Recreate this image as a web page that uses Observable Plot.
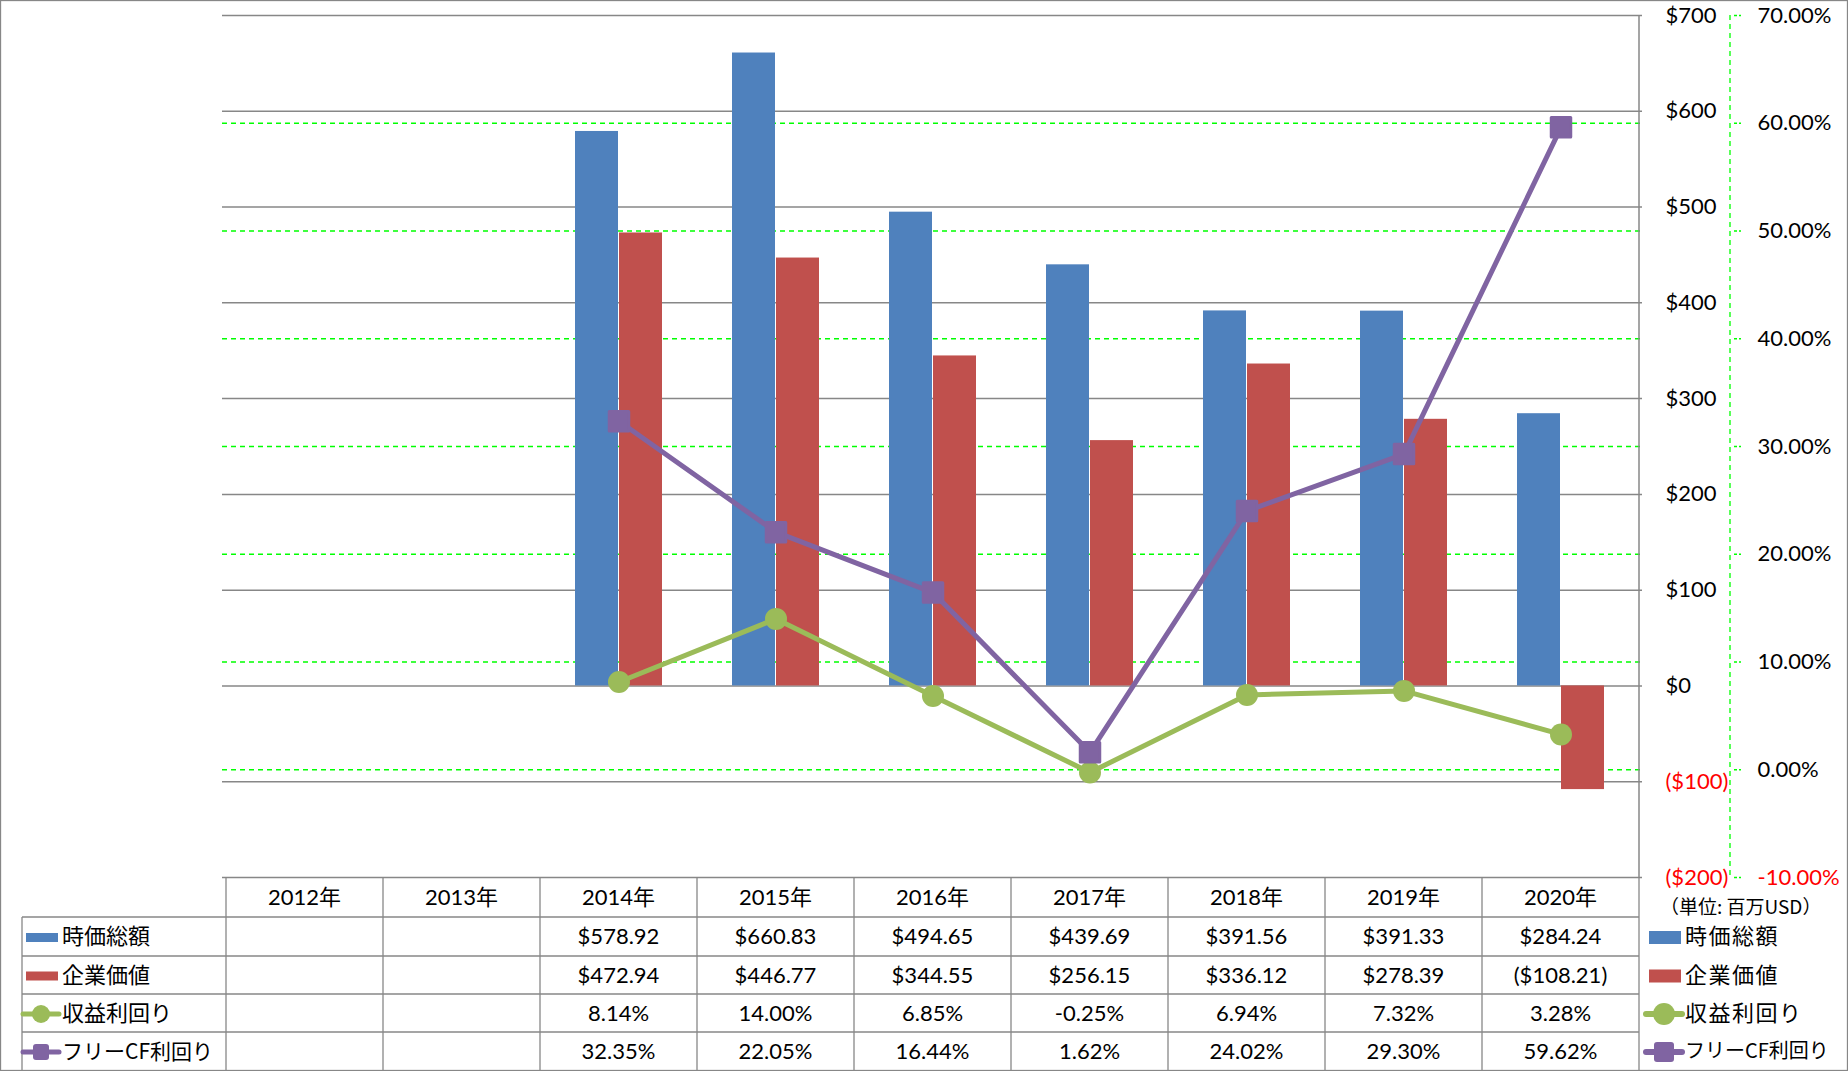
<!DOCTYPE html>
<html><head><meta charset="utf-8">
<script src="https://cdn.jsdelivr.net/npm/d3@7"></script>
<script src="https://cdn.jsdelivr.net/npm/@observablehq/plot@0.6"></script>
<style>
html,body{margin:0;padding:0;background:#fff;}
#wrap{position:relative;width:1848px;height:1071px;overflow:hidden;font-family:Lato,"Noto Sans CJK JP",sans-serif;}
#wrap svg{position:absolute;left:0;top:0;}
</style></head>
<body><div id="wrap"></div>
<script>
// ---- data ----
const years = ["2012年","2013年","2014年","2015年","2016年","2017年","2018年","2019年","2020年"];
const dataYears = ["2014年","2015年","2016年","2017年","2018年","2019年","2020年"];
const marketCap = [578.92, 660.83, 494.65, 439.69, 391.56, 391.33, 284.24];
const enterpriseValue = [472.94, 446.77, 344.55, 256.15, 336.12, 278.39, -108.21];
const earningsYield = [8.14, 14.00, 6.85, -0.25, 6.94, 7.32, 3.28];
const fcfYield = [32.35, 22.05, 16.44, 1.62, 24.02, 29.30, 59.62];
const dollarTicks = [-200, -100, 0, 100, 200, 300, 400, 500, 600, 700];
const pctTicks = [-10, 0, 10, 20, 30, 40, 50, 60, 70];
const seriesNames = ["時価総額", "企業価値", "収益利回り", "フリーCF利回り"];
const unitLabel = "（単位: 百万USD）";

const C = {blue:"#4F81BD", red:"#C0504D", green:"#9BBB59", purple:"#8064A2", grid:"#878787", lime:"#00FF00", neg:"#FF0000"};
const FONT = 'Lato, "Noto Sans CJK JP", sans-serif';
const JFONT = '"Noto Sans CJK JP", sans-serif';

// secondary (percent) axis mapped onto the dollar axis: -10% -> -200, 70% -> 700
const pctToY = p => -200 + (p + 10) * 900 / 80;
const yToPct = v => (v + 200) * 80 / 900 - 10;

const rows = dataYears.map((year, i) => ({year, mc: marketCap[i], ev: enterpriseValue[i], ey: earningsYield[i], fcf: fcfYield[i]}));

const fmtDollar = d => d < 0 ? `($${(-d).toFixed(2)})` : `$${d.toFixed(2)}`;
const fmtPct = p => p.toFixed(2) + "%";

const W = 1848, H = 1071;
const plot = Plot.plot({
  width: W, height: H,
  marginLeft: 222, marginRight: 206, marginTop: 15, marginBottom: 194,
  style: {fontFamily: FONT, fontSize: "22px", color: "#000", background: "transparent", overflow: "visible"},
  x: {domain: years, padding: 0, axis: null},
  y: {domain: [-200, 700], axis: null},
  marks: [
    Plot.ruleY(pctTicks.slice(1, -1).map(pctToY), {stroke: C.lime, strokeDasharray: "5,4", strokeWidth: 1.3}),
    Plot.gridY({ticks: dollarTicks, stroke: C.grid, strokeOpacity: 1, strokeWidth: 1.5}),
    Plot.barY(rows, {x: "year", y: "mc", fill: C.blue, insetLeft: 35, insetRight: 79}),
    Plot.barY(rows, {x: "year", y: "ev", fill: C.red, insetLeft: 79, insetRight: 35}),
    Plot.line(rows, {x: "year", y: d => pctToY(d.ey), stroke: C.green, strokeWidth: 5}),
    Plot.line(rows, {x: "year", y: d => pctToY(d.fcf), stroke: C.purple, strokeWidth: 5}),
    Plot.dot(rows, {x: "year", y: d => pctToY(d.ey), r: 11, fill: C.green}),
    Plot.dot(rows, {x: "year", y: d => pctToY(d.fcf), symbol: "square", r: 11, fill: C.purple, stroke: C.purple, strokeWidth: 3, strokeLinejoin: "round"}),
    // dollar axis
    Plot.axisY({anchor: "right", ticks: dollarTicks.filter(d => d >= 0), tickSize: 0, tickPadding: 23, tickFormat: d => `$${d}`, fill: "#000", fontSize: 22}),
    Plot.axisY({anchor: "right", ticks: dollarTicks.filter(d => d < 0), tickSize: 0, tickPadding: 23, tickFormat: d => `($${-d})`, fill: C.neg, fontSize: 22}),
    // percent axis
    Plot.axisY({anchor: "right", dx: 91, ticks: pctTicks.filter(p => p >= 0).map(pctToY), tickSize: 7, tickPadding: 17, tickFormat: v => fmtPct(yToPct(v)), fill: "#000", stroke: C.lime, strokeWidth: 1.3, strokeDasharray: "3,2", fontSize: 22}),
    Plot.axisY({anchor: "right", dx: 91, ticks: pctTicks.filter(p => p < 0).map(pctToY), tickSize: 7, tickPadding: 17, tickFormat: v => fmtPct(yToPct(v)), fill: C.neg, stroke: C.lime, strokeWidth: 1.3, strokeDasharray: "3,2", fontSize: 22})
  ]
});
const wrap = document.getElementById("wrap");
wrap.appendChild(plot);

// ---- data table & legend below the plot frame ----
const xs = plot.scale("x"), ys = plot.scale("y");
const bw = xs.bandwidth;
const colX = years.map(y => xs.apply(y));
const plotRight = colX[colX.length - 1] + bw;
const top0 = ys.apply(-200);
const yTop = ys.apply(700);
const rowB = [top0, top0 + 40, top0 + 79, top0 + 117, top0 + 155, H - 1];
const rowC = i => (rowB[i] + rowB[i + 1]) / 2;
const labelLeft = 22;

const svg = d3.select(wrap).append("svg").attr("width", W).attr("height", H)
  .style("font-family", FONT);
// percent axis line (dashed green)
svg.append("line").attr("x1", plotRight + 91).attr("x2", plotRight + 91).attr("y1", yTop).attr("y2", top0)
  .attr("stroke", C.lime).attr("stroke-width", 1.3).attr("stroke-dasharray", "5,4");
const g = svg.append("g").attr("stroke", C.grid).attr("stroke-width", 1.3).attr("fill", "none");
// outer border
g.append("rect").attr("x", 0.5).attr("y", 0.5).attr("width", W - 1).attr("height", H - 1);
// plot right edge
g.append("line").attr("x1", plotRight).attr("x2", plotRight).attr("y1", yTop).attr("y2", top0).attr("stroke-width", 1.5);
// horizontal rules
for (let i = 1; i < rowB.length - 1; i++) g.append("line").attr("x1", labelLeft).attr("x2", plotRight).attr("y1", rowB[i]).attr("y2", rowB[i]);
// vertical rules
colX.concat([plotRight]).forEach(x => g.append("line").attr("x1", x).attr("x2", x).attr("y1", top0).attr("y2", H - 1));
g.append("line").attr("x1", labelLeft).attr("x2", labelLeft).attr("y1", rowB[1]).attr("y2", H - 1);

// header
const t = svg.append("g").attr("fill", "#000").attr("text-anchor", "middle").attr("font-size", 22);
years.forEach((y, i) => t.append("text").attr("x", colX[i] + bw / 2).attr("y", rowC(0)).attr("dy", "0.35em").text(y));
const tableRows = [
  marketCap.map(fmtDollar),
  enterpriseValue.map(fmtDollar),
  earningsYield.map(fmtPct),
  fcfYield.map(fmtPct)
];
tableRows.forEach((vals, r) => {
  vals.forEach((v, i) => {
    const xi = years.indexOf(dataYears[i]);
    t.append("text").attr("x", colX[xi] + bw / 2).attr("y", rowC(r + 1)).attr("dy", "0.35em").text(v);
  });
});

// legend keys
const keyColors = [C.blue, C.red, C.green, C.purple];
function drawKey(x0, w, cy, idx, big) {
  const col = keyColors[idx];
  if (idx < 2) {
    const h = big ? 13 : 9;
    svg.append("rect").attr("x", x0).attr("y", cy - h / 2).attr("width", w).attr("height", h).attr("fill", col);
  } else {
    svg.append("line").attr("x1", x0).attr("x2", x0 + w).attr("y1", cy).attr("y2", cy).attr("stroke", col).attr("stroke-width", big ? 6 : 5).attr("stroke-linecap", "round");
    const s = big ? 20 : 16;
    if (idx === 2) svg.append("circle").attr("cx", x0 + w / 2).attr("cy", cy).attr("r", s / 2 + 1).attr("fill", col);
    else svg.append("rect").attr("x", x0 + w / 2 - s / 2).attr("y", cy - s / 2).attr("width", s).attr("height", s).attr("rx", 3).attr("fill", col);
  }
}
seriesNames.forEach((name, i) => {
  const cy = rowC(i + 1);
  const last = i === 3;
  drawKey(i < 2 ? 26 : 23, i < 2 ? 32 : 36, cy + 1, i, false);
  svg.append("text").attr("x", 62).attr("y", cy).attr("dy", "0.36em").attr("font-size", last ? 21 : 22).attr("fill", "#000")
    .style("font-family", JFONT).text(name);
  drawKey(i < 2 ? 1649 : 1646, i < 2 ? 32 : 36, cy + 1, i, true);
  svg.append("text").attr("x", 1685).attr("y", cy).attr("dy", "0.36em").attr("font-size", last ? 20 : 22)
    .attr("letter-spacing", last ? 0 : 1.5).attr("fill", "#000")
    .style("font-family", JFONT).text(name);
});
svg.append("text").attr("x", 1660).attr("y", rowC(0) + 10).attr("dy", "0.36em").attr("font-size", 19).attr("fill", "#000")
  .style("font-family", JFONT).text(unitLabel);
</script>
</body></html>
